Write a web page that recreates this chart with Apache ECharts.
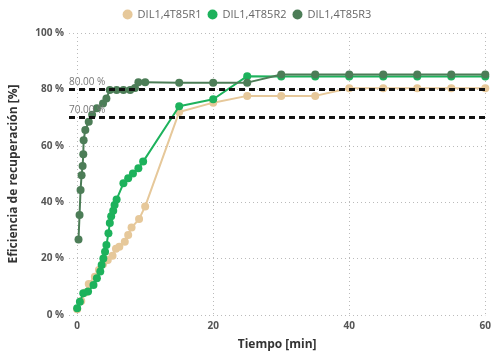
<!DOCTYPE html>
<html>
<head>
<meta charset="utf-8">
<script src="https://cdn.jsdelivr.net/npm/echarts@6/dist/echarts.min.js"></script>
<style>
  html, body { margin: 0; padding: 0; background: #fff; }
  #chart { width: 494px; height: 358px; }
</style>
</head>
<body>
<div id="chart"></div>
<script>
// series names
var seriesNames = ['DIL1,4T85R1', 'DIL1,4T85R2', 'DIL1,4T85R3'];

// [tiempo (min), eficiencia (%)]
var r1Data = [[0, 2], [0.6, 5], [1.2, 8], [1.7, 11], [2.6, 13.6], [3.2, 16], [3.8, 18], [4.5, 19.5],
  [5.2, 21], [5.7, 23.5], [6.2, 24.2], [7, 26], [7.5, 28.4], [8, 31], [9.1, 34], [10, 38.5],
  [15, 72], [20, 75.3], [25, 77.7], [30, 77.7], [35, 77.7], [40, 80.4], [45, 80.4], [50, 80.4],
  [55, 80.4], [60, 80.4]];

var r2Data = [[0, 2.4], [0.4, 4.7], [0.9, 7.7], [1.6, 8.3], [2.4, 10.6], [2.9, 13], [3.4, 15.4],
  [3.6, 17.7], [3.85, 20], [4.1, 22.4], [4.3, 24.8], [4.6, 29], [4.8, 32.6], [5.0, 35], [5.3, 37],
  [5.5, 39], [5.8, 41], [6.8, 46.7], [7.5, 48.5], [8.2, 50.2], [9.0, 52], [9.7, 54.4],
  [15, 74], [20, 76.5], [25, 84.7], [30, 84.6], [35, 84.6], [40, 84.6], [45, 84.6], [50, 84.6],
  [55, 84.6], [60, 84.6]];

var r3Data = [[0.2, 26.8], [0.35, 35.5], [0.5, 44.3], [0.65, 49.6], [0.8, 52.8], [0.9, 57],
  [0.95, 62], [1.2, 65.6], [1.7, 68.5], [2.2, 71], [2.9, 73.3], [3.8, 75], [4.3, 76.8],
  [4.8, 79.8], [5.8, 79.8], [6.8, 79.8], [7.8, 79.8], [8.5, 80.5], [9, 82.5], [10, 82.5],
  [15, 82.4], [20, 82.4], [25, 82.4], [30, 85.3], [35, 85.3], [40, 85.3], [45, 85.3],
  [50, 85.3], [55, 85.3], [60, 85.3]];

// x tick labels
var xTicks = [0, 20, 40, 60];

// reference lines
var refLines = [80, 70];

var colors = ['#E6C89A', '#1DB25C', '#4C7D57'];
var font = '"Open Sans", "Noto Sans", sans-serif';

var chart = echarts.init(document.getElementById('chart'));

function makeSeries(i, data, withMark) {
  var s = {
    name: seriesNames[i],
    type: 'line',
    data: data,
    symbol: 'circle',
    symbolSize: 8,
    lineStyle: { width: 2, color: colors[i] },
    itemStyle: { color: colors[i] },
    z: 2 + i
  };
  if (withMark) {
    s.markLine = {
      silent: true,
      symbol: 'none',
      lineStyle: { type: [6, 4], color: '#111', width: 3 },
      label: {
        position: 'insideStartTop',
        formatter: function (p) { return p.value.toFixed(2) + ' %'; },
        color: '#777',
        fontFamily: font,
        fontSize: 10,
        distance: [0, 2]
      },
      data: refLines.map(function (v) { return { yAxis: v }; })
    };
  }
  return s;
}

chart.setOption({
  animation: false,
  color: colors,
  textStyle: { fontFamily: font },
  legend: {
    top: 4,
    left: 'center',
    icon: 'circle',
    itemWidth: 10,
    itemHeight: 10,
    itemGap: 6,
    textStyle: { color: '#666', fontSize: 11, fontFamily: font },
    data: seriesNames
  },
  grid: { left: 66, right: 6, top: 33, bottom: 43 },
  xAxis: {
    type: 'value',
    min: -1.2,
    max: 60,
    name: 'Tiempo [min]',
    nameLocation: 'middle',
    nameGap: 24,
    nameTextStyle: { color: '#333', fontSize: 12, fontWeight: 'bold', fontFamily: font },
    axisLine: { show: false },
    axisTick: { show: false, customValues: xTicks },
    axisLabel: { color: '#555', fontSize: 10, fontWeight: 'bold', margin: 6, customValues: xTicks },
    splitLine: { show: true, lineStyle: { type: [1, 3], color: '#bbb' } }
  },
  yAxis: {
    type: 'value',
    min: 0,
    max: 100,
    interval: 20,
    name: 'Eficiencia de recuperación [%]',
    nameLocation: 'middle',
    nameGap: 49,
    nameTextStyle: { color: '#333', fontSize: 12, fontWeight: 'bold', fontFamily: font },
    axisLine: { show: false },
    axisTick: { show: false },
    axisLabel: { color: '#555', fontSize: 10, fontWeight: 'bold', formatter: '{value} %', margin: 5 },
    splitLine: { show: true, lineStyle: { type: [1, 3], color: '#bbb' } }
  },
  series: [
    makeSeries(0, r1Data, true),
    makeSeries(1, r2Data, false),
    makeSeries(2, r3Data, false)
  ]
});
</script>
</body>
</html>
